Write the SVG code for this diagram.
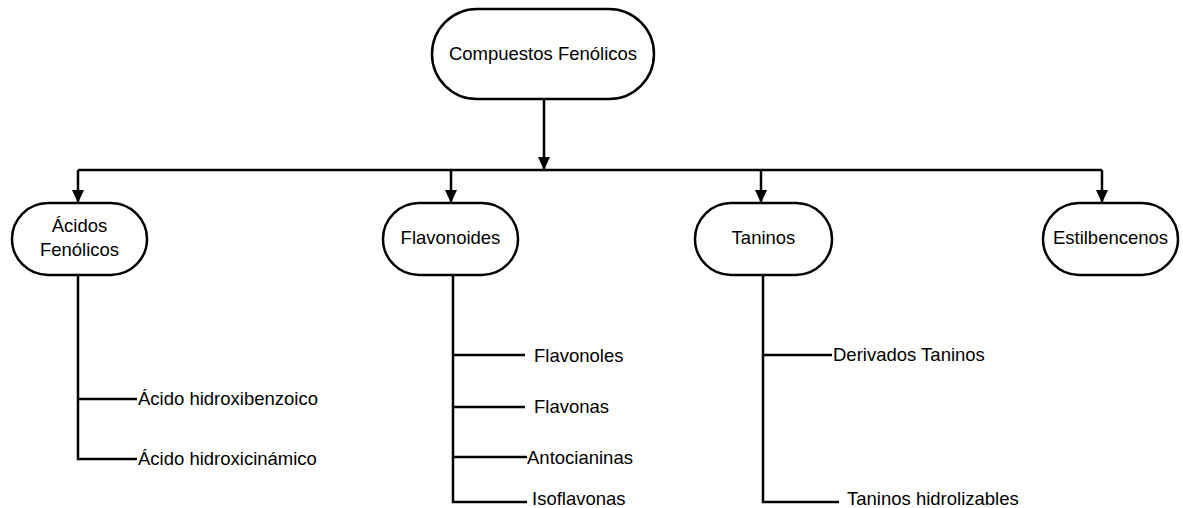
<svg xmlns="http://www.w3.org/2000/svg" width="1183" height="508" viewBox="0 0 1183 508">
<style>
.node{fill:#fff;stroke:#000;stroke-width:2.5}
.t{font-family:"Liberation Sans",Arial,sans-serif;font-size:18.5px;fill:#000}
.c{text-anchor:middle}
.ln{fill:none;stroke:#000;stroke-width:2.5}
</style>
<defs>
<marker id="ah" markerUnits="userSpaceOnUse" markerWidth="14" markerHeight="16" refX="12" refY="6" orient="auto">
<path d="M0,0 L13,6 L0,12 Z" fill="#000"/>
</marker>
</defs>
<rect width="1183" height="508" fill="#fff"/>
<g id="connectors">
<line class="ln" x1="544" y1="99" x2="544" y2="169" marker-end="url(#ah)"/>
<line class="ln" x1="78" y1="170" x2="1102" y2="170"/>
<line class="ln" x1="78" y1="170" x2="78" y2="202" marker-end="url(#ah)"/>
<line class="ln" x1="451" y1="170" x2="451" y2="202" marker-end="url(#ah)"/>
<line class="ln" x1="761" y1="170" x2="761" y2="202" marker-end="url(#ah)"/>
<line class="ln" x1="1102" y1="170" x2="1102" y2="202" marker-end="url(#ah)"/>
<path class="ln" d="M78,275 V459 H137 M78,399 H137"/>
<path class="ln" d="M453,275 V502 H527 M453,355 H525 M453,407 H525 M453,457 H527"/>
<path class="ln" d="M763,275 V502 H839 M763,355 H832"/>
</g>
<g id="n-compuestos">
<rect class="node" x="432" y="9" width="222" height="90" rx="45"/>
<text class="t c" x="543" y="60">Compuestos Fenólicos</text>
</g>
<g id="n-acidos">
<rect class="node" x="12" y="203" width="135" height="72" rx="36"/>
<text class="t c" x="79.5" y="232">Ácidos</text>
<text class="t c" x="79.5" y="256">Fenólicos</text>
</g>
<g id="n-flavonoides">
<rect class="node" x="383" y="203" width="135" height="72" rx="36"/>
<text class="t c" x="450.5" y="244">Flavonoides</text>
</g>
<g id="n-taninos">
<rect class="node" x="695" y="203" width="137" height="72" rx="36"/>
<text class="t c" x="763.5" y="244">Taninos</text>
</g>
<g id="n-estilbencenos">
<rect class="node" x="1043" y="203" width="135" height="72" rx="36"/>
<text class="t c" x="1110.5" y="244">Estilbencenos</text>
</g>
<g id="leaf-acidos">
<text class="t" x="138" y="405">Ácido hidroxibenzoico</text>
<text class="t" x="138" y="465">Ácido hidroxicinámico</text>
</g>
<g id="leaf-flavonoides">
<text class="t" x="534" y="362">Flavonoles</text>
<text class="t" x="534" y="413">Flavonas</text>
<text class="t" x="527" y="464">Antocianinas</text>
<text class="t" x="532" y="505">Isoflavonas</text>
</g>
<g id="leaf-taninos">
<text class="t" x="833" y="361">Derivados Taninos</text>
<text class="t" x="847" y="505">Taninos hidrolizables</text>
</g>
</svg>
